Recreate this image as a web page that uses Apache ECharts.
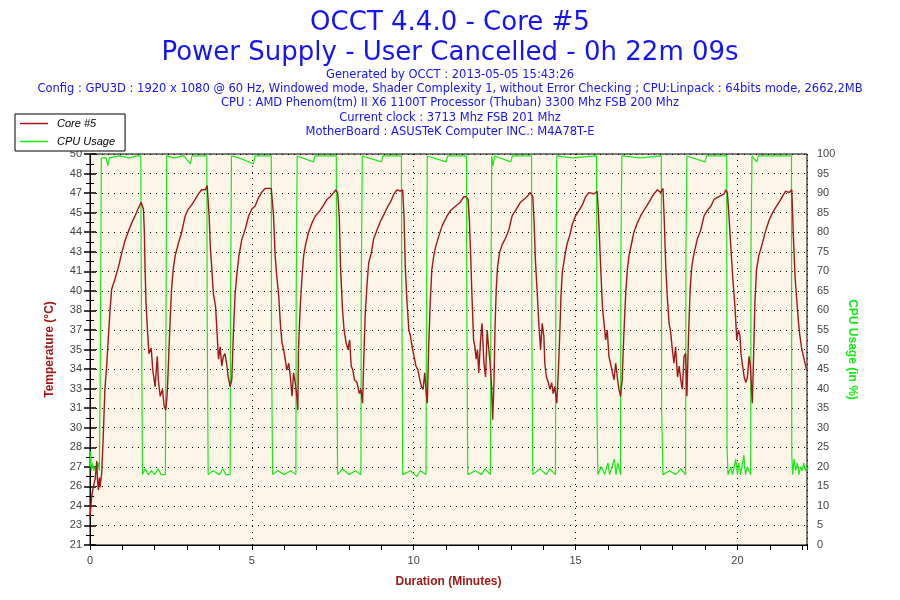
<!DOCTYPE html>
<html>
<head>
<meta charset="utf-8">
<script src="https://cdn.jsdelivr.net/npm/echarts@6/dist/echarts.min.js"></script>
<style>
html,body{margin:0;padding:0;background:#fff;}
#chart{width:900px;height:600px;}
</style>
</head>
<body>
<div id="chart"></div>
<script>
// ---- Data (minutes, value) ----
const titleLines = ['OCCT 4.4.0 - Core #5', 'Power Supply - User Cancelled - 0h 22m 09s'];
const infoLines = [
  'Generated by OCCT : 2013-05-05 15:43:26',
  'Config : GPU3D : 1920 x 1080 @ 60 Hz, Windowed mode, Shader Complexity 1, without Error Checking ; CPU:Linpack : 64bits mode, 2662,2MB',
  'CPU : AMD Phenom(tm) II X6 1100T Processor (Thuban) 3300 Mhz FSB 200 Mhz',
  'Current clock : 3713 Mhz FSB 201 Mhz',
  'MotherBoard : ASUSTeK Computer INC.: M4A78T-E'
];
const seriesNames = ['Core #5', 'CPU Usage'];
const durationMax = 22.15;
const tempAxisMin = 21.3;
const tempAxisStep = 1.42;
const tempAxisMax = 49.7;
const cpuAxisTicks = [0, 100, 5];

const coreTemp = [[0,23.3],[0.05,24.8],[0.1,25.5],[0.16,26.1],[0.21,27.4],[0.23,26.0],[0.26,25.3],[0.29,26.2],[0.31,25.5],[0.36,26.5],[0.41,29.2],[0.46,32.6],[0.52,34.5],[0.57,36.5],[0.62,38.4],[0.67,39.9],[0.77,40.6],[0.88,41.5],[0.98,42.5],[1.08,43.4],[1.19,44.1],[1.29,44.7],[1.39,45.2],[1.5,45.8],[1.58,46.2],[1.65,45.7],[1.68,44.0],[1.70,41.5],[1.73,38.9],[1.78,36.7],[1.82,35.2],[1.89,35.6],[1.94,34.0],[2.01,32.8],[2.08,35.0],[2.11,33.3],[2.17,32.1],[2.24,32.6],[2.29,31.4],[2.34,31.1],[2.38,32.1],[2.40,33.1],[2.44,35.5],[2.48,37.9],[2.52,39.9],[2.57,41.3],[2.63,42.3],[2.73,43.2],[2.83,44.0],[2.94,45.2],[3.04,45.7],[3.14,46.0],[3.25,46.4],[3.35,46.8],[3.45,47.1],[3.56,47.1],[3.62,47.4],[3.68,45.2],[3.72,42.8],[3.76,41.5],[3.81,39.6],[3.88,38.6],[3.92,36.9],[3.97,34.8],[4.02,35.7],[4.07,34.3],[4.12,35.0],[4.17,35.2],[4.22,34.5],[4.27,33.5],[4.33,32.8],[4.38,33.3],[4.43,36.7],[4.48,39.4],[4.53,40.8],[4.6,42.3],[4.69,43.5],[4.79,44.2],[4.9,45.2],[5.0,45.7],[5.1,45.9],[5.2,46.5],[5.3,46.9],[5.41,47.2],[5.6,47.2],[5.67,45.2],[5.72,42.3],[5.77,40.8],[5.83,39.4],[5.88,37.4],[5.93,36.0],[5.98,35.5],[6.03,34.8],[6.08,34.0],[6.14,34.5],[6.19,33.5],[6.24,32.1],[6.29,33.8],[6.34,33.1],[6.39,32.1],[6.42,31.1],[6.44,35.5],[6.49,38.4],[6.55,40.8],[6.6,42.3],[6.65,43.0],[6.75,44.0],[6.86,44.7],[6.96,45.2],[7.11,45.6],[7.22,46.0],[7.32,46.4],[7.42,46.6],[7.53,46.9],[7.6,47.1],[7.65,46.9],[7.7,45.2],[7.74,41.5],[7.8,38.4],[7.85,36.9],[7.91,36.0],[7.97,35.5],[8.02,36.2],[8.07,34.3],[8.12,34.0],[8.17,33.3],[8.25,33.1],[8.32,32.3],[8.37,32.6],[8.42,31.6],[8.46,35.0],[8.5,37.9],[8.56,40.3],[8.61,41.8],[8.69,42.5],[8.76,43.5],[8.87,44.2],[8.97,44.8],[9.08,45.3],[9.18,45.8],[9.28,46.2],[9.39,46.8],[9.49,47.1],[9.59,47.0],[9.66,47.1],[9.7,45.2],[9.74,41.5],[9.79,39.1],[9.85,36.9],[9.9,36.5],[9.95,35.7],[10.01,35.0],[10.07,34.3],[10.13,34.0],[10.19,33.3],[10.24,32.8],[10.29,32.6],[10.34,33.8],[10.39,32.3],[10.42,31.6],[10.46,35.5],[10.51,38.9],[10.56,41.3],[10.62,42.3],[10.67,42.9],[10.77,43.7],[10.88,44.5],[11.03,45.2],[11.14,45.6],[11.29,45.9],[11.44,46.2],[11.55,46.6],[11.62,46.6],[11.68,46.4],[11.72,44.9],[11.76,42.3],[11.8,39.4],[11.85,36.2],[11.89,35.7],[11.93,34.8],[11.97,35.5],[12.01,33.8],[12.06,36.0],[12.11,37.4],[12.17,34.5],[12.22,33.5],[12.27,36.9],[12.32,35.5],[12.36,34.5],[12.4,33.1],[12.44,30.4],[12.48,33.1],[12.51,36.9],[12.55,39.9],[12.59,41.5],[12.65,42.5],[12.73,43.1],[12.84,43.6],[12.94,44.2],[13.04,45.2],[13.17,45.7],[13.3,46.2],[13.4,46.4],[13.5,46.6],[13.6,46.9],[13.68,46.6],[13.72,44.7],[13.76,42.0],[13.82,39.4],[13.87,37.2],[13.92,35.5],[13.97,37.4],[14.02,36.5],[14.05,34.5],[14.1,33.5],[14.16,33.1],[14.21,32.6],[14.26,33.1],[14.31,32.3],[14.36,32.8],[14.42,31.6],[14.47,34.0],[14.51,36.5],[14.55,39.4],[14.59,41.1],[14.67,42.3],[14.74,43.2],[14.81,43.7],[14.9,44.6],[15.0,45.2],[15.11,45.6],[15.21,46.0],[15.31,46.6],[15.42,46.9],[15.57,46.8],[15.67,47.0],[15.72,44.7],[15.77,41.8],[15.83,38.6],[15.88,37.4],[15.93,36.2],[15.98,36.9],[16.03,35.0],[16.08,34.5],[16.14,33.8],[16.19,33.3],[16.24,34.5],[16.29,33.5],[16.34,32.6],[16.39,32.1],[16.44,33.3],[16.49,36.5],[16.55,39.6],[16.6,41.3],[16.65,42.3],[16.73,43.2],[16.8,44.0],[16.91,44.7],[17.01,45.2],[17.11,45.6],[17.22,46.0],[17.32,46.4],[17.42,46.8],[17.53,47.1],[17.63,46.9],[17.7,47.2],[17.74,44.9],[17.79,41.3],[17.84,39.1],[17.89,37.4],[17.94,36.7],[17.99,35.5],[18.04,34.5],[18.09,35.7],[18.15,33.5],[18.2,34.3],[18.25,33.3],[18.3,32.6],[18.35,35.0],[18.4,35.2],[18.44,32.1],[18.49,36.5],[18.54,39.9],[18.59,41.5],[18.66,42.5],[18.76,43.5],[18.87,44.2],[18.97,45.2],[19.07,45.6],[19.18,45.9],[19.28,46.4],[19.43,46.6],[19.59,46.8],[19.64,47.1],[19.69,46.9],[19.74,45.2],[19.8,42.8],[19.86,40.6],[19.93,38.4],[19.98,36.2],[20.03,36.9],[20.08,36.5],[20.11,35.2],[20.15,34.5],[20.21,33.5],[20.26,33.1],[20.31,33.5],[20.36,35.0],[20.4,34.3],[20.46,31.6],[20.5,35.0],[20.54,38.9],[20.59,41.3],[20.66,42.3],[20.77,43.2],[20.87,44.1],[20.98,44.9],[21.08,45.4],[21.18,45.8],[21.29,46.2],[21.39,46.6],[21.49,47.0],[21.6,46.9],[21.68,47.1],[21.73,43.7],[21.78,40.8],[21.84,38.9],[21.89,37.4],[21.93,36.5],[21.99,35.5],[22.06,34.8],[22.14,34.0]];

const cpuUsage = [[0,20],[0.02,24],[0.04,19],[0.08,21],[0.12,19],[0.16,20],[0.2,19],[0.25,21],[0.29,19],[0.31,19],[0.32,49],[0.34,49],[0.35,99],[0.5,99],[0.55,97],[0.6,99],[0.9,99.5],[1.2,99],[1.45,99.5],[1.57,99.5],[1.58,74],[1.61,74],[1.62,18],[1.7,19.5],[1.8,18],[1.9,19],[2.0,18],[2.1,19.5],[2.2,18],[2.33,18],[2.34,44],[2.36,44],[2.37,99.5],[2.6,99],[2.9,99.5],[3.1,97.5],[3.15,99.5],[3.61,99.5],[3.62,59],[3.64,59],[3.65,18],[3.8,19],[4.0,18],[4.1,19.5],[4.2,18],[4.33,18],[4.34,58],[4.36,58],[4.37,99.5],[4.6,99],[5.05,97.5],[5.1,99.5],[5.6,99.5],[5.61,48],[5.63,48],[5.64,18],[5.8,19],[6.0,18],[6.2,19],[6.36,18],[6.37,64],[6.39,64],[6.4,99.5],[6.9,98],[6.95,99.5],[7.61,99.5],[7.62,51],[7.64,51],[7.65,18],[7.8,19.5],[8.0,18],[8.2,19],[8.37,18],[8.38,64],[8.4,64],[8.41,99.5],[9.0,98],[9.05,99.5],[9.62,99.5],[9.63,69],[9.65,69],[9.66,18],[9.9,19],[10.1,17.5],[10.2,19],[10.38,18],[10.39,48],[10.41,48],[10.42,99.5],[11.0,98],[11.05,99.5],[11.63,99.5],[11.64,61],[11.66,61],[11.67,18],[11.9,19],[12.1,18],[12.2,19.5],[12.37,18],[12.38,50],[12.4,50],[12.41,99.5],[12.45,97],[12.5,99.5],[13.0,98],[13.05,99.5],[13.64,99.5],[13.65,54],[13.67,54],[13.68,18],[13.9,19.5],[14.1,18],[14.2,19.5],[14.38,18],[14.39,61],[14.41,61],[14.42,99.5],[14.9,99],[15.65,99.5],[15.66,35],[15.68,35],[15.69,18],[15.8,20],[15.9,18],[16.0,21],[16.05,18],[16.2,22],[16.25,18],[16.3,21],[16.39,18],[16.4,74],[16.42,74],[16.43,99.5],[17.0,99],[17.65,99.5],[17.66,34],[17.69,34],[17.7,18],[17.9,19],[18.1,18],[18.25,19.5],[18.4,18],[18.41,76],[18.43,76],[18.44,99.5],[19.0,98],[19.05,99.5],[19.67,99.5],[19.68,25],[19.7,25],[19.71,18],[19.8,20],[19.85,18],[19.95,22],[20.0,18],[20.05,21],[20.1,18],[20.2,23],[20.25,18],[20.3,20],[20.41,18],[20.42,76],[20.44,76],[20.45,99.5],[20.6,98],[20.65,99.5],[21.67,99.5],[21.68,23],[21.7,23],[21.71,18],[21.75,22],[21.8,19],[21.85,21],[21.9,18],[21.95,20],[22.0,19],[22.05,21],[22.1,19],[22.15,20]];

// ---- Styles ----
const BLUE = '#1414f5';
const RED = '#a01818';
const GREEN = '#18e818';
const LABEL_FONT = 'Liberation Sans, Arial, sans-serif';
const TITLE_FONT = 'DejaVu Sans, Verdana, sans-serif';

const titles = [
  { text: titleLines[0], left: 'center', top: 5, textStyle: { fontSize: 26, color: BLUE, fontWeight: 'normal', fontFamily: TITLE_FONT } },
  { text: titleLines[1], left: 'center', top: 35, textStyle: { fontSize: 26, color: BLUE, fontWeight: 'normal', fontFamily: TITLE_FONT } }
];
infoLines.forEach((t, i) => {
  titles.push({ text: t, left: 'center', top: 69 + i * 14.2, padding: 0,
    textStyle: { fontSize: 11.5, color: BLUE, fontWeight: 'normal', fontFamily: TITLE_FONT } });
});

const dotted = { color: '#000', width: 1, type: [1, 5] };

const chart = echarts.init(document.getElementById('chart'));
chart.setOption({
  animation: false,
  backgroundColor: '#fff',
  title: titles,
  legend: {
    orient: 'vertical', left: 15, top: 114,
    data: seriesNames.map(n => ({ name: n, icon: 'rect' })),
    itemWidth: 28, itemHeight: 1.5, itemGap: 7,
    padding: [4, 10, 4, 5],
    borderColor: '#000', borderWidth: 1, backgroundColor: '#fff', borderRadius: 0,
    textStyle: { fontStyle: 'italic', fontSize: 11, color: '#000', fontFamily: LABEL_FONT, padding: [0, 0, 0, 4] }
  },
  grid: { left: 90, right: 93, top: 154, bottom: 55, show: true, backgroundColor: '#fdf6e8',
          borderColor: '#000', borderWidth: 1, containLabel: false, outerBoundsMode: 'none' },
  xAxis: [
    { type: 'value', min: 0, max: durationMax, interval: 1, position: 'bottom',
      axisLine: { show: true, lineStyle: { color: '#000', width: 1 } },
      axisTick: { show: true, length: 5, lineStyle: { color: '#000' } },
      axisLabel: { show: false }, splitLine: { show: false },
      name: 'Duration (Minutes)', nameLocation: 'middle', nameGap: 31,
      nameTextStyle: { color: RED, fontWeight: 'bold', fontSize: 12, fontFamily: LABEL_FONT } },
    { type: 'value', min: 0, max: durationMax, interval: 5, position: 'bottom',
      axisLine: { show: false }, axisTick: { show: false },
      axisLabel: { show: true, margin: 10, color: '#444', fontSize: 11, fontFamily: LABEL_FONT,
        formatter: v => (Math.abs(v % 5) < 1e-6 ? String(v) : '') },
      splitLine: { show: true, lineStyle: dotted } }
  ],
  yAxis: [
    { type: 'value', position: 'left', min: tempAxisMin, max: tempAxisMax, interval: tempAxisStep,
      axisLine: { show: true, lineStyle: { color: '#000', width: 1 } },
      axisTick: { show: true, length: 6, lineStyle: { color: '#000', width: 1.5 } },
      minorTick: { show: true, splitNumber: 2, length: 4, lineStyle: { color: '#000' } },
      axisLabel: { color: '#444', fontSize: 11, fontFamily: LABEL_FONT, margin: 8,
        formatter: v => String(Math.round(v - 0.01)) },
      splitLine: { show: true, lineStyle: dotted },
      name: 'Temperature (°C)', nameLocation: 'middle', nameGap: 34,
      nameTextStyle: { color: RED, fontWeight: 'bold', fontSize: 12, fontFamily: LABEL_FONT } },
    { type: 'value', position: 'right', min: cpuAxisTicks[0], max: cpuAxisTicks[1], interval: cpuAxisTicks[2],
      axisLine: { show: true, lineStyle: { color: '#000', width: 1 } },
      axisTick: { show: true, length: 6, lineStyle: { color: '#000', width: 1.5 } },
      minorTick: { show: true, splitNumber: 2, length: 4, lineStyle: { color: '#000' } },
      axisLabel: { color: '#444', fontSize: 11, fontFamily: LABEL_FONT, margin: 10 },
      splitLine: { show: false },
      name: 'CPU Usage (in %)', nameLocation: 'middle', nameGap: 36, nameRotate: -90,
      nameTextStyle: { color: GREEN, fontWeight: 'bold', fontSize: 12, fontFamily: LABEL_FONT } }
  ],
  series: [
    { name: seriesNames[1], type: 'line', xAxisIndex: 0, yAxisIndex: 1, data: cpuUsage,
      symbol: 'none', lineStyle: { color: GREEN, width: 1.2 }, itemStyle: { color: GREEN },
      z: 2 },
    { name: seriesNames[0], type: 'line', xAxisIndex: 0, yAxisIndex: 0, data: coreTemp,
      symbol: 'none', lineStyle: { color: RED, width: 1.4 }, itemStyle: { color: RED },
      z: 3 }
  ]
});
</script>
</body>
</html>
